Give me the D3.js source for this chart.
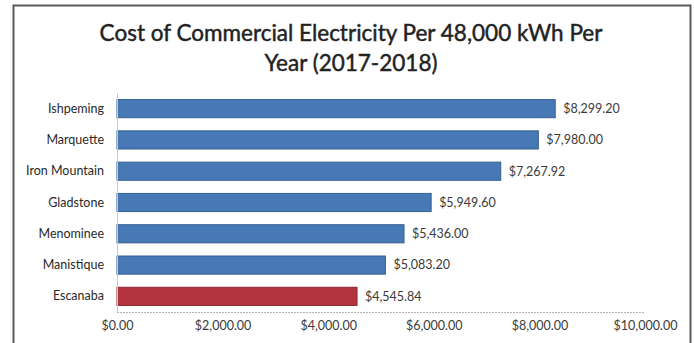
<!DOCTYPE html>
<html>
<head>
<meta charset="utf-8">
<script src="https://cdn.jsdelivr.net/npm/d3@7/dist/d3.min.js"></script>
<style>
  html, body { margin: 0; padding: 0; background: #fff; }
  svg { display: block; }
</style>
</head>
<body>
<svg id="chart" width="694" height="343"></svg>
<script>
// Annual commercial electricity cost for 48,000 kWh, by city
const cities = ["Ishpeming", "Marquette", "Iron Mountain", "Gladstone", "Menominee", "Manistique", "Escanaba"];
const costs = [8299.20, 7980.00, 7267.92, 5949.60, 5436.00, 5083.20, 4545.84];
const highlighted = ["Escanaba"];
const xTicks = [0, 2000, 4000, 6000, 8000, 10000];
const titleLines = ["Cost of Commercial Electricity Per 48,000 kWh Per", "Year (2017-2018)"];

const svg = d3.select("#chart");
const font = "Lato, 'Open Sans', sans-serif";

// outer frame
svg.append("rect")
  .attr("x", 13.5).attr("y", 5.5)
  .attr("width", 677).attr("height", 350)
  .attr("fill", "#fff")
  .attr("stroke", "#5a5a5a").attr("stroke-width", 2);

// title
svg.append("g").selectAll("text")
  .data(titleLines)
  .join("text")
  .attr("x", 351)
  .attr("y", (d, i) => 41 + i * 30)
  .attr("text-anchor", "middle")
  .attr("font-family", font)
  .attr("font-size", 22.5)
  .attr("fill", "#222")
  .attr("stroke", "#222")
  .attr("stroke-width", 0.45)
  .text(d => d);

const margin = { left: 117, right: 645, top: 93, bottom: 312 };

const x = d3.scaleLinear().domain([0, 10000]).range([margin.left, margin.right]);
const y = d3.scaleBand().domain(cities).range([margin.top, margin.bottom]).paddingInner(0.42).paddingOuter(0.21);

const money = d3.format("$,.2f");

// bars
svg.append("g").selectAll("rect")
  .data(cities.map((c, i) => ({ city: c, cost: costs[i] })))
  .join("rect")
  .attr("x", x(0))
  .attr("y", d => y(d.city))
  .attr("width", d => x(d.cost) - x(0))
  .attr("height", y.bandwidth())
  .attr("fill", d => highlighted.includes(d.city) ? "#b3343f" : "#4779b6")
  .attr("stroke", d => highlighted.includes(d.city) ? "#8a2530" : "#34608f")
  .attr("stroke-width", 1);

// value labels
svg.append("g").selectAll("text")
  .data(cities.map((c, i) => ({ city: c, cost: costs[i] })))
  .join("text")
  .attr("x", d => x(d.cost) + 8)
  .attr("y", d => y(d.city) + y.bandwidth() / 2)
  .attr("dy", "0.35em")
  .attr("font-family", font)
  .attr("font-size", 12.5)
  .attr("fill", "#3a3a3a")
  .text(d => money(d.cost));

// category axis
const yAxis = svg.append("g")
  .attr("transform", `translate(${x(0)},0)`)
  .call(d3.axisLeft(y).tickSize(0).tickPadding(13));
yAxis.select(".domain").attr("stroke", "#c8c8c8").attr("stroke-width", 1);
yAxis.selectAll("text")
  .attr("font-family", font)
  .attr("font-size", 12.5)
  .attr("fill", "#2a2a2a");

// baseline
svg.append("line")
  .attr("x1", x(0)).attr("x2", x(10000))
  .attr("y1", margin.bottom + 0.5).attr("y2", margin.bottom + 0.5)
  .attr("stroke", "#b8b0b0")
  .attr("stroke-dasharray", "2,1");

// value axis labels
const xAxis = svg.append("g")
  .attr("transform", `translate(0,${margin.bottom})`)
  .call(d3.axisBottom(x).tickValues(xTicks).tickFormat(money).tickSize(0).tickPadding(9));
xAxis.select(".domain").remove();
xAxis.selectAll("text")
  .attr("font-family", font)
  .attr("font-size", 12.5)
  .attr("fill", "#3a3a3a");
</script>
</body>
</html>
